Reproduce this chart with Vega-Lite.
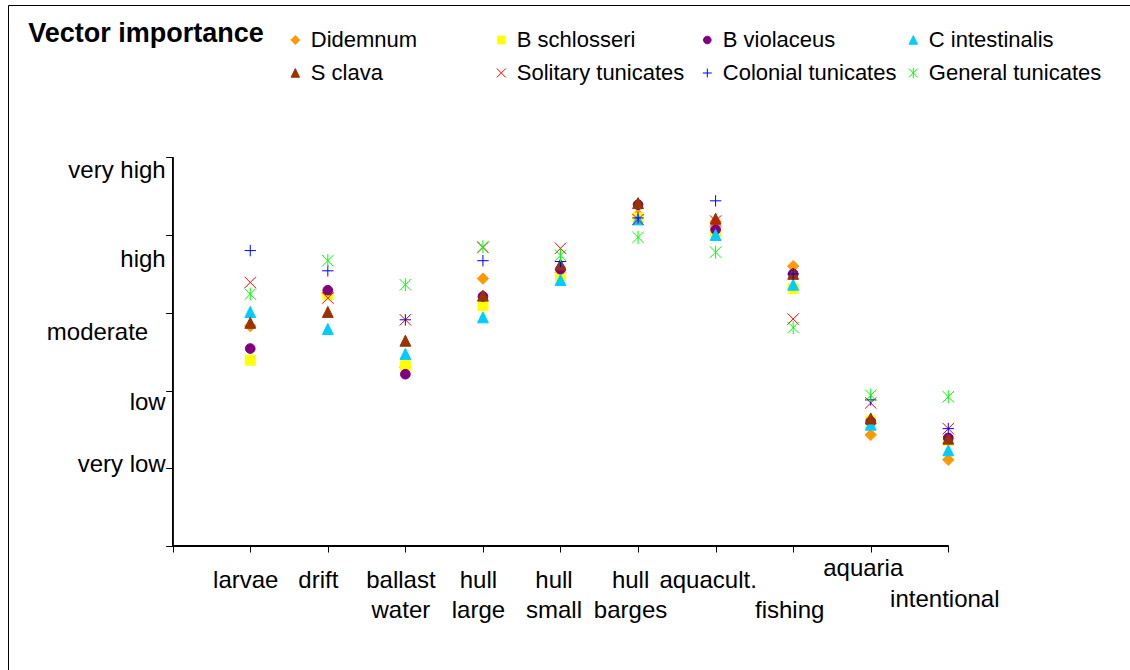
{
  "$schema": "https://vega.github.io/schema/vega-lite/v6.json",
  "width": 1140,
  "height": 700,
  "autosize": "none",
  "padding": {"left": 8, "top": 5, "right": 0, "bottom": 0},
  "background": "white",
  "config": {
    "view": {"stroke": "#000000", "strokeWidth": 1},
    "font": "Liberation Sans",
    "legend": {
      "orient": "none",
      "legendX": 20.3,
      "legendY": 24,
      "columns": 4,
      "gridAlign": "all",
      "padding": 0,
      "titleOrient": "left",
      "titleAnchor": "start",
      "titleFont": "Liberation Sans",
      "titleFontSize": 27,
      "titleFontWeight": "bold",
      "titleColor": "#000000",
      "titlePadding": 20,
      "titleLimit": 500,
      "titleBaseline": "line-top",
      "titleLineHeight": 10,
      "labelFont": "Liberation Sans",
      "labelFontSize": 22,
      "labelColor": "#000000",
      "labelOffset": 4.5,
      "labelLimit": 400,
      "symbolSize": 80,
      "symbolStrokeWidth": 1,
      "columnPadding": 5,
      "rowPadding": 11
    }
  },
  "data": {
    "values": [
      {"vector": "larvae", "pos": 1, "Didemnum": 2.83, "B schlosseri": 2.39, "B violaceus": 2.54, "C intestinalis": 3.01, "S clava": 2.87, "Solitary tunicates": 3.39, "Colonial tunicates": 3.80, "General tunicates": 3.24},
      {"vector": "drift", "pos": 2, "Didemnum": 3.25, "B schlosseri": 3.23, "B violaceus": 3.29, "C intestinalis": 2.79, "S clava": 3.01, "Solitary tunicates": 3.19, "Colonial tunicates": 3.54, "General tunicates": 3.67},
      {"vector": "ballast water", "pos": 3, "Didemnum": 2.30, "B schlosseri": 2.32, "B violaceus": 2.21, "C intestinalis": 2.47, "S clava": 2.64, "Solitary tunicates": 2.91, "Colonial tunicates": 2.91, "General tunicates": 3.36},
      {"vector": "hull large", "pos": 4, "Didemnum": 3.44, "B schlosseri": 3.09, "B violaceus": 3.21, "C intestinalis": 2.94, "S clava": 3.22, "Solitary tunicates": 3.84, "Colonial tunicates": 3.67, "General tunicates": 3.85},
      {"vector": "hull small", "pos": 5, "Didemnum": 3.52, "B schlosseri": 3.48, "B violaceus": 3.56, "C intestinalis": 3.42, "S clava": 3.62, "Solitary tunicates": 3.83, "Colonial tunicates": 3.66, "General tunicates": 3.74},
      {"vector": "hull barges", "pos": 6, "Didemnum": 4.26, "B schlosseri": 4.22, "B violaceus": 4.39, "C intestinalis": 4.20, "S clava": 4.41, "Solitary tunicates": 4.20, "Colonial tunicates": 4.22, "General tunicates": 3.97},
      {"vector": "aquacult.", "pos": 7, "Didemnum": 4.17, "B schlosseri": 4.04, "B violaceus": 4.07, "C intestinalis": 4.00, "S clava": 4.21, "Solitary tunicates": 4.18, "Colonial tunicates": 4.44, "General tunicates": 3.78},
      {"vector": "fishing", "pos": 8, "Didemnum": 3.60, "B schlosseri": 3.31, "B violaceus": 3.50, "C intestinalis": 3.36, "S clava": 3.50, "Solitary tunicates": 2.92, "Colonial tunicates": 3.50, "General tunicates": 2.81},
      {"vector": "aquaria", "pos": 9, "Didemnum": 1.43, "B schlosseri": 1.61, "B violaceus": 1.60, "C intestinalis": 1.56, "S clava": 1.64, "Solitary tunicates": 1.84, "Colonial tunicates": 1.88, "General tunicates": 1.94},
      {"vector": "intentional", "pos": 10, "Didemnum": 1.11, "B schlosseri": 1.36, "B violaceus": 1.39, "C intestinalis": 1.23, "S clava": 1.38, "Solitary tunicates": 1.51, "Colonial tunicates": 1.51, "General tunicates": 1.92}
    ]
  },
  "layer": [
    {
      "mark": {"type": "rule", "color": "#000000", "strokeWidth": 1},
      "encoding": {
        "x": {"datum": 0, "type": "quantitative", "axis": {"title": null}},
        "x2": {"datum": 10},
        "y": {"datum": 0, "type": "quantitative", "axis": {"title": null}}
      }
    },
    {
      "mark": {"type": "rule", "color": "#000000", "strokeWidth": 1},
      "encoding": {
        "x": {"datum": 0, "type": "quantitative", "axis": {"title": null}},
        "y": {"datum": 0, "type": "quantitative", "axis": {"title": null}},
        "y2": {"datum": 5}
      }
    },
    {
      "transform": [
        {"fold": ["Didemnum", "B schlosseri", "B violaceus", "C intestinalis", "S clava", "Solitary tunicates", "Colonial tunicates", "General tunicates"], "as": ["sp", "v"]}
      ],
      "mark": {"type": "point", "filled": true, "size": 130, "strokeWidth": 1, "opacity": 1},
      "encoding": {
        "x": {
          "field": "pos",
          "type": "quantitative",
          "scale": {"domain": [-2.1235, 12.575], "nice": false, "zero": false},
          "axis": {
            "orient": "bottom",
            "offset": -159,
            "values": [0, 1, 2, 3, 4, 5, 6, 7, 8, 9, 10],
            "domain": false,
            "grid": false,
            "title": null,
            "tickSize": 6,
            "tickColor": "#000000",
            "tickWidth": 1,
            "labelExpr": "datum.value == 1 ? 'larvae' : datum.value == 2 ? 'drift' : datum.value == 3 ? ['ballast', 'water'] : datum.value == 4 ? ['hull', 'large'] : datum.value == 5 ? ['hull', 'small'] : datum.value == 6 ? ['hull', 'barges'] : datum.value == 7 ? 'aquacult.' : datum.value == 8 ? 'fishing' : datum.value == 9 ? 'aquaria' : datum.value == 10 ? 'intentional' : ''",
            "labelFont": "Liberation Sans",
            "labelFontSize": 24,
            "labelColor": "#000000",
            "labelAngle": 0,
            "labelAlign": "center",
            "labelBaseline": "top",
            "labelLineHeight": 30.5,
            "labelOverlap": false,
            "labelFlush": false,
            "labelLimit": 1000,
            "labelPadding": {"condition": [{"test": "datum.value == 9", "value": 4}, {"test": "datum.value == 10", "value": 35}, {"test": "datum.value == 8", "value": 46}], "value": 16},
            "labelOffset": {"condition": [{"test": "datum.value == 2", "value": -10}, {"test": "datum.value == 5", "value": -7}, {"test": "datum.value == 6 || datum.value == 7 || datum.value == 9", "value": -8}, {"test": "datum.value == 8 || datum.value == 10", "value": -4}], "value": -5}
          }
        },
        "y": {
          "field": "v",
          "type": "quantitative",
          "scale": {"domain": [-2.045, 6.959], "nice": false, "zero": false},
          "axis": {
            "orient": "left",
            "offset": -164.7,
            "values": [0, 1, 2, 3, 4, 5],
            "domain": false,
            "grid": false,
            "title": null,
            "tickSize": 7,
            "tickColor": "#000000",
            "tickWidth": 1,
            "labelExpr": "datum.value == 5 ? 'very high' : datum.value == 4 ? 'high' : datum.value == 3 ? 'moderate' : datum.value == 2 ? 'low' : datum.value == 1 ? 'very low' : ''",
            "labelFont": "Liberation Sans",
            "labelFontSize": 24,
            "labelColor": "#000000",
            "labelAlign": "right",
            "labelBaseline": "alphabetic",
            "labelOverlap": false,
            "labelFlush": false,
            "labelLimit": 1000,
            "labelPadding": {"expr": "datum.value == 3 ? 18 : 0.5"},
            "labelOffset": {"expr": "datum.value == 5 ? 20 : datum.value == 4 ? 31 : datum.value == 3 ? 27 : datum.value == 2 ? 19 : 3.4"}
          }
        },
        "fill": {
          "field": "sp",
          "type": "nominal",
          "scale": {
            "domain": ["Didemnum", "S clava", "B schlosseri", "Solitary tunicates", "B violaceus", "Colonial tunicates", "C intestinalis", "General tunicates"],
            "range": ["#FF9900", "#993300", "#FFFF00", "#FF0000", "#800080", "#0000FF", "#00CCFF", "#00FF00"]
          },
          "legend": {"title": "Vector importance"}
        },
        "stroke": {
          "field": "sp",
          "type": "nominal",
          "scale": {
            "domain": ["Didemnum", "S clava", "B schlosseri", "Solitary tunicates", "B violaceus", "Colonial tunicates", "C intestinalis", "General tunicates"],
            "range": ["#FF9900", "#993300", "#FFFF00", "#FF0000", "#800080", "#0000FF", "#00CCFF", "#00FF00"]
          },
          "legend": {"title": "Vector importance"}
        },
        "shape": {
          "field": "sp",
          "type": "nominal",
          "scale": {
            "domain": ["Didemnum", "S clava", "B schlosseri", "Solitary tunicates", "B violaceus", "Colonial tunicates", "C intestinalis", "General tunicates"],
            "range": [
              "M0,-1L1,0L0,1L-1,0Z",
              "M0,-0.98L0.95,0.95L-0.95,0.95Z",
              "M-0.87,-0.87L0.87,-0.87L0.87,0.87L-0.87,0.87Z",
              "M-1,-1L1,1M-1,1L1,-1",
              "M0.85,0A0.85,0.85 0 1,1 -0.85,0A0.85,0.85 0 1,1 0.85,0Z",
              "M-1,0L1,0M0,-1L0,1",
              "M0,-0.98L0.95,0.95L-0.95,0.95Z",
              "M-1,-1L1,1M-1,1L1,-1M0,-1.15L0,1.15"
            ]
          },
          "legend": {"title": "Vector importance"}
        }
      }
    }
  ]
}
